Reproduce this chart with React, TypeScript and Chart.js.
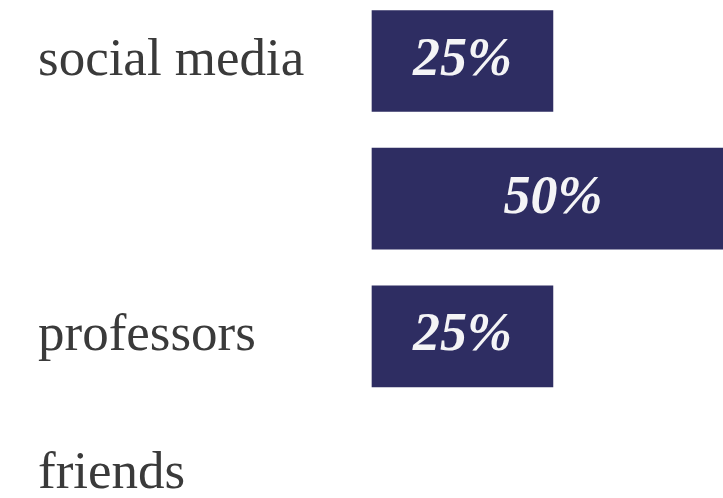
import React, { useEffect, useRef } from "react";
import { Chart, registerables } from "chart.js";

Chart.register(...registerables);

const categories: string[] = ["social media", "", "professors", "friends"];
const shares: number[] = [25, 50, 25, 0];
const valueLabels: string[] = ["25%", "50%", "25%", ""];

const BAR_COLOR = "#2e2d62";
const LABEL_COLOR = "#3a3a3a";

const barTextPlugin = {
  id: "barText",
  afterDatasetsDraw(chart: any) {
    const ctx = chart.ctx;
    const meta = chart.getDatasetMeta(0);
    ctx.save();
    ctx.font = "italic bold 54px 'Liberation Serif', serif";
    ctx.fillStyle = "#f4f4f6";
    ctx.textAlign = "center";
    ctx.textBaseline = "middle";
    meta.data.forEach((el: any, i: number) => {
      if (!shares[i]) return;
      const cx = (el.x + el.base) / 2;
      ctx.fillText(valueLabels[i], cx, el.y);
    });
    ctx.restore();
  },
};

export default function App() {
  const ref = useRef<HTMLCanvasElement | null>(null);
  useEffect(() => {
    if (!ref.current) return;
    const chart = new Chart(ref.current, {
      type: "bar",
      data: {
        labels: categories,
        datasets: [
          {
            data: shares,
            backgroundColor: shares.map((v) => (v > 0 ? BAR_COLOR : "rgba(0,0,0,0)")),
            borderWidth: 0,
            barThickness: 101,
            clip: false as any,
          },
        ],
      },
      options: {
        indexAxis: "y",
        animation: false,
        responsive: true,
        maintainAspectRatio: false,
        layout: { padding: { left: 38, right: 0, top: 61, bottom: 24 } },
        plugins: {
          legend: { display: false },
          tooltip: { enabled: false },
        },
        scales: {
          x: {
            display: false,
            min: 0,
            max: 48.5,
          },
          y: {
            offset: false,
            grid: { display: false },
            border: { display: false },
            ticks: {
              crossAlign: "far",
              padding: 0,
              color: LABEL_COLOR,
              font: { family: "'Liberation Serif', serif", size: 53, lineHeight: 0.8 },
            },
            afterFit(scale: any) {
              scale.width = 334;
            },
          },
        },
      },
      plugins: [barTextPlugin],
    });
    return () => chart.destroy();
  }, []);
  return (
    <div style={{ position: "fixed", left: 0, top: 0, width: 723, height: 498, background: "#fff" }}>
      <canvas ref={ref} />
    </div>
  );
}
